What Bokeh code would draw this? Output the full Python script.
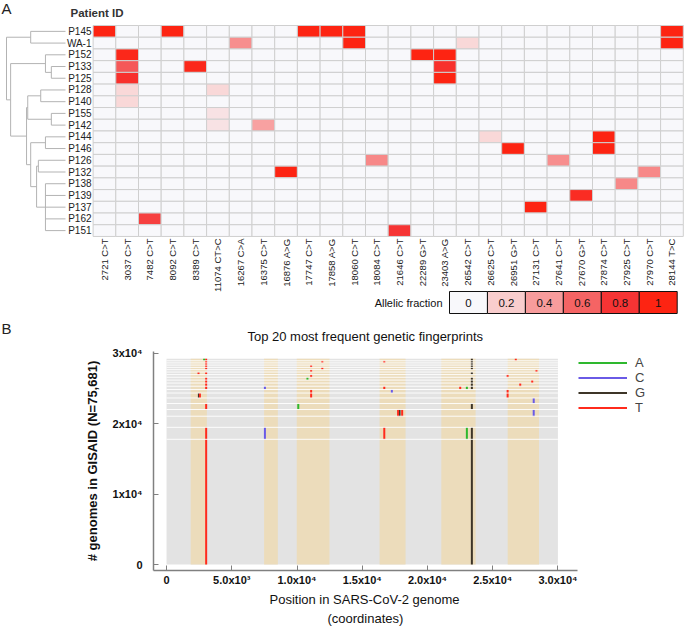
import numpy as np
from bokeh.plotting import figure
from bokeh.models import (Range1d, ColumnDataSource, LinearColorMapper, Legend, LegendItem,
                          FixedTicker, Title)
from bokeh.transform import transform
from bokeh.core.properties import value
from bokeh.embed import file_html
from bokeh.resources import INLINE

FONT = value("Liberation Sans")

# ---------------- Panel A data ----------------
patients = ["P145", "WA-1", "P152", "P133", "P125", "P128", "P140", "P155", "P142",
            "P144", "P146", "P126", "P132", "P138", "P139", "P137", "P162", "P151"]
mutations = ["2721 C>T", "3037 C>T", "7482 C>T", "8092 C>T", "8389 C>T", "11074 CT>C",
             "16267 C>A", "16375 C>T", "16876 A>G", "17747 C>T", "17858 A>G", "18060 C>T",
             "18084 C>T", "21646 C>T", "22289 G>T", "23403 A>G", "26542 C>T", "26625 C>T",
             "26951 G>T", "27131 C>T", "27641 C>T", "27670 G>T", "27874 C>T", "27925 C>T",
             "27970 C>T", "28144 T>C"]
af_patient = ["P145", "P145", "P145", "P145", "P145", "P145",
              "WA-1", "WA-1", "WA-1", "WA-1",
              "P152", "P152", "P152",
              "P133", "P133", "P133",
              "P125", "P125",
              "P128", "P128",
              "P140",
              "P155",
              "P142", "P142",
              "P144", "P144",
              "P146", "P146",
              "P126", "P126",
              "P132", "P132",
              "P138", "P139", "P137", "P162", "P151"]
af_mutation = ["2721 C>T", "8092 C>T", "17747 C>T", "17858 A>G", "18060 C>T", "28144 T>C",
               "16267 C>A", "18060 C>T", "26542 C>T", "28144 T>C",
               "3037 C>T", "22289 G>T", "23403 A>G",
               "3037 C>T", "8389 C>T", "23403 A>G",
               "3037 C>T", "23403 A>G",
               "3037 C>T", "11074 CT>C",
               "3037 C>T",
               "11074 CT>C",
               "11074 CT>C", "16375 C>T",
               "26625 C>T", "27874 C>T",
               "26951 G>T", "27874 C>T",
               "18084 C>T", "27641 C>T",
               "16876 A>G", "27970 C>T",
               "27925 C>T", "27670 G>T", "27131 C>T", "7482 C>T", "21646 C>T"]
af_value = [1.0, 1.0, 1.0, 1.0, 1.0, 1.0,
            0.45, 1.0, 0.15, 1.0,
            0.95, 1.0, 1.0,
            0.65, 0.95, 0.85,
            0.85, 1.0,
            0.15, 0.15,
            0.15,
            0.1,
            0.1, 0.38,
            0.15, 1.0,
            1.0, 1.0,
            0.47, 0.45,
            1.0, 0.47,
            0.47, 0.9, 1.0, 0.75, 0.8]
legend_values = [0, 0.2, 0.4, 0.6, 0.8, 1]
legend_labels = ["0", "0.2", "0.4", "0.6", "0.8", "1"]

# dendrogram (children, normalised merge height)
node_names = ["c1", "c2", "c3", "c4", "c5", "c6", "c7", "c8", "cm", "c9", "c10", "c11", "c12", "root"]
node_children = [["P145", "WA-1"], ["P133", "P125"], ["P152", "c2"], ["P128", "P140"],
                 ["P155", "P142"], ["c4", "c5"], ["P144", "P146"], ["P126", "P132"],
                 ["P138", "P139", "P137", "P162", "P151"], ["c8", "cm"], ["c7", "c9"],
                 ["c6", "c10"], ["c3", "c11"], ["c1", "c12"]]
node_height = [0.59, 0.24, 0.34, 0.42, 0.24, 0.64, 0.34, 0.46, 0.34, 0.49, 0.59, 0.66, 0.93, 1.0]

# ---------------- Panel B data ----------------
band_counts = [17780, 1700, 1580, 950, 850, 790, 700, 500, 470, 450,
               420, 400, 380, 360, 340, 330, 320, 310, 300, 290]
mut_fp = [1, 1,
          2, 2, 2, 2, 2,
          4, 4, 4, 4,
          5, 5, 5,
          6,
          7, 7, 7, 7,
          8, 8, 8,
          9, 9, 9, 9, 9, 9,
          10, 10, 10,
          11, 11, 11,
          12, 12, 12,
          13, 13,
          14, 14, 14,
          15, 15,
          16, 16, 16,
          17, 17, 17,
          18, 18,
          19, 19, 19, 19,
          20, 20, 20, 20]
mut_pos = [3037, 23403,
           3037, 7540, 16690, 23020, 23403,
           17747, 17858, 18060, 28144,
           3037, 10097, 23403,
           28144,
           2480, 2558, 11083, 26144,
           11083, 17270, 26144,
           3037, 7540, 16690, 22510, 23020, 23403,
           3037, 23403, 27110,
           3037, 23403, 28030,
           3037, 10800, 23403,
           11083, 26144,
           2450, 3037, 23403,
           11083, 28355,
           3037, 11940, 23403,
           3037, 11083, 23403,
           3037, 23403,
           3037, 11940, 16690, 23403,
           2880, 3037, 23403, 26770]
mut_base = ["T", "G",
            "T", "C", "T", "A", "G",
            "T", "G", "T", "C",
            "T", "A", "G",
            "C",
            "G", "T", "T", "T",
            "T", "C", "T",
            "T", "C", "T", "T", "A", "G",
            "T", "G", "T",
            "T", "G", "T",
            "T", "A", "G",
            "T", "T",
            "T", "T", "G",
            "T", "T",
            "T", "T", "G",
            "T", "T", "G",
            "T", "G",
            "T", "T", "T", "G",
            "A", "T", "G", "T"]
region_start = [1850, 7475, 9980, 16330, 21060, 26150]
region_end = [3090, 8530, 12490, 18320, 23690, 28550]
genome_end = 30000
bases = ["A", "C", "G", "T"]
base_colors = ["#2eb82e", "#6a5ae6", "#3d3528", "#ff2b1c"]
x_ticks = [0, 5000, 10000, 15000, 20000, 25000, 30000]
x_tick_labels = ["0", "5.0x10\u00b3", "1.0x10\u2074", "1.5x10\u2074", "2.0x10\u2074", "2.5x10\u2074", "3.0x10\u2074"]
y_ticks = [0, 10000, 20000, 30000]
y_tick_labels = ["0", "1x10\u2074", "2x10\u2074", "3x10\u2074"]
title_B = "Top 20 most frequent genetic fingerprints"

# ================= Panel A figure (also carries the "B" letter and panel-B title) =================
W = 685
HA = 344
cw = 22.7
rh = 11.72
x0 = -0.5 - 92.6 / cw
y1 = 0.5 + 25 / rh
pA = figure(width=W, height=HA, x_range=Range1d(x0, x0 + W / cw), y_range=Range1d(y1 - HA / rh, y1),
            output_backend="svg", toolbar_location=None, x_axis_type=None, y_axis_type=None,
            min_border_left=0, min_border_right=0, min_border_top=0, min_border_bottom=0)
pA.grid.visible = False
pA.outline_line_color = None

def sx(px):
    return x0 + px / cw

def sy(px):
    return y1 - px / rh

stops = [(0.0, "#f8f8fb"), (0.2, "#f9cdcd"), (0.4, "#f89c9c"), (0.6, "#f56464"), (0.8, "#f63434"), (1.0, "#fd2412")]
def hex2rgb(h):
    return np.array([int(h[i:i + 2], 16) for i in (1, 3, 5)], dtype=float)
pal = []
for t in np.linspace(0, 1, 101):
    for (a, ca), (b, cb) in zip(stops[:-1], stops[1:]):
        if a <= t <= b + 1e-9:
            f = (t - a) / (b - a)
            c = hex2rgb(ca) * (1 - f) + hex2rgb(cb) * f
            pal.append("#%02x%02x%02x" % tuple(int(round(v)) for v in c))
            break
mapper = LinearColorMapper(palette=pal, low=0, high=1)

lookup = {(p, m): v for p, m, v in zip(af_patient, af_mutation, af_value)}
cx, cy, cv = [], [], []
for i, pt in enumerate(patients):
    for j, mu in enumerate(mutations):
        cx.append(j)
        cy.append(-i)
        cv.append(lookup.get((pt, mu), 0.0))
pA.rect(x="x", y="y", width=1, height=1, source=ColumnDataSource(dict(x=cx, y=cy, v=cv)),
        fill_color=transform("v", mapper), line_color="#cfcfcf", line_width=1)

pA.text(x=[-0.57] * len(patients), y=[-i for i in range(len(patients))], text=patients,
        text_align="right", text_baseline="middle", text_font=FONT, text_font_size="10px", text_color="#222222")
pA.text(x=list(range(len(mutations))), y=[-len(patients) + 0.5 - 0.17] * len(mutations), text=mutations,
        angle=np.pi / 2, text_align="right", text_baseline="middle", text_font=FONT,
        text_font_size="9.5px", text_color="#222222")

# dendrogram
leaf_x = sx(65)
span = 59 / cw
ypos = {p: -i for i, p in enumerate(patients)}
xpos = {p: leaf_x for p in patients}
sx0, sy0, sx1, sy1 = [], [], [], []
for name, kids, h in zip(node_names, node_children, node_height):
    xn = leaf_x - h * span
    ys = [ypos[k] for k in kids]
    sx0.append(xn); sy0.append(min(ys)); sx1.append(xn); sy1.append(max(ys))
    for k in kids:
        sx0.append(xn); sy0.append(ypos[k]); sx1.append(xpos[k]); sy1.append(ypos[k])
    ypos[name] = (min(ys) + max(ys)) / 2
    xpos[name] = xn
pA.segment(x0=sx0, y0=sy0, x1=sx1, y1=sy1, line_color="#b3b3b3", line_width=1)

# panel letters, headers
pA.text(x=[sx(1)], y=[sy(-1)], text=["A"], text_baseline="top", text_font=FONT,
        text_font_size="15px", text_color="#222222")
pA.text(x=[sx(1)], y=[sy(319)], text=["B"], text_baseline="top", text_font=FONT,
        text_font_size="15px", text_color="#222222")
pA.text(x=[sx(70)], y=[sy(12.5)], text=["Patient ID"], text_baseline="middle", text_font=FONT,
        text_font_size="11.5px", text_font_style="bold", text_color="#333333")
pA.text(x=[sx(364.7)], y=[sy(336)], text=[title_B], text_align="center", text_baseline="middle",
        text_font=FONT, text_font_size="13px", text_color="#111111")

# allelic fraction legend
bw = 37.95 / cw
bx0 = sx(449)
btop, bbot = sy(291), sy(313)
bxs = [bx0 + (k + 0.5) * bw for k in range(len(legend_values))]
pA.rect(x=bxs, y=[(btop + bbot) / 2] * len(bxs), width=bw, height=btop - bbot,
        fill_color=[pal[int(round(v * 100))] for v in legend_values], line_color="#111111", line_width=1)
pA.text(x=bxs, y=[(btop + bbot) / 2] * len(bxs), text=legend_labels, text_align="center",
        text_baseline="middle", text_font=FONT, text_font_size="11.5px", text_color="#111111")
pA.text(x=[sx(442)], y=[(btop + bbot) / 2], text=["Allelic fraction"], text_align="right",
        text_baseline="middle", text_font=FONT, text_font_size="11px", text_color="#111111")

# ================= Panel B figure =================
HB = 626 - HA
FL, FW, FH = 153, 424, 219
TOP = 7
XMIN, XMAX = -1000, 31500
x_end = XMIN + (W - FL) * (XMAX - XMIN) / FW      # frame extends right to hold the legend
pB = figure(width=W, height=HB, x_range=Range1d(XMIN, x_end), y_range=Range1d(-850, 30250),
            output_backend="svg", toolbar_location=None,
            min_border_left=FL, min_border_right=0, min_border_top=TOP,
            min_border_bottom=HB - TOP - FH)
pB.grid.visible = False
pB.outline_line_color = None

cum = np.cumsum(band_counts)
total = float(cum[-1])
bottoms = cum - np.array(band_counts)
pB.quad(left=[0], right=[genome_end], bottom=[0], top=[total], fill_color="#e3e3e3", line_color=None)
pB.quad(left=region_start, right=region_end, bottom=[0] * len(region_start), top=[total] * len(region_start),
        fill_color="#ecdcbb", line_color=None)

renderers = []
for b, col in zip(bases, base_colors):
    xs = [p for p, bb in zip(mut_pos, mut_base) if bb == b]
    yb = [float(bottoms[f - 1]) for f, bb in zip(mut_fp, mut_base) if bb == b]
    yt = [float(cum[f - 1]) for f, bb in zip(mut_fp, mut_base) if bb == b]
    r = pB.segment(x0=xs, y0=yb, x1=xs, y1=yt, line_color=col, line_width=2)
    renderers.append(r)

bounds = [float(c) for c in cum[:-1]]
pB.segment(x0=[0] * len(bounds), y0=bounds, x1=[genome_end] * len(bounds), y1=bounds,
           line_color="white", line_width=1, line_alpha=0.9)

for ax in (pB.xaxis, pB.yaxis):
    ax.axis_line_color = "#808080"
    ax.axis_line_width = 1.5
    ax.major_tick_line_color = "#808080"
    ax.major_tick_in = 5
    ax.major_tick_out = 0
    ax.minor_tick_line_color = None
    ax.major_label_text_font = "Liberation Sans"
    ax.major_label_text_font_style = "bold"
    ax.major_label_text_font_size = "11px"
    ax.major_label_text_color = "#111111"
    ax.axis_label_text_font = "Liberation Sans"
    ax.axis_label_text_color = "#111111"
    ax.axis_label_text_font_size = "13px"

pB.xaxis.ticker = FixedTicker(ticks=x_ticks)
pB.xaxis.bounds = (XMIN, XMAX)
pB.xaxis.major_label_overrides = {t: l for t, l in zip(x_ticks, x_tick_labels)}
pB.xaxis.major_label_standoff = 3
pB.yaxis.ticker = FixedTicker(ticks=y_ticks)
pB.yaxis.major_label_overrides = {t: l for t, l in zip(y_ticks, y_tick_labels)}
pB.yaxis.major_label_standoff = 11
pB.yaxis.axis_label = "# genomes in GISAID (N=75,681)"
pB.yaxis.axis_label_text_font_style = "bold"
pB.yaxis.axis_label_standoff = 10

# x-axis title (two centred lines under the axis span)
pB.add_layout(Title(text="Position in SARS-CoV-2 genome", align="left", offset=116, standoff=3,
                    text_font="Liberation Sans", text_font_size="13px", text_font_style="normal",
                    text_color="#111111", text_line_height=1.0), "below")
pB.add_layout(Title(text="(coordinates)", align="left", offset=174, standoff=0,
                    text_font="Liberation Sans", text_font_size="13px", text_font_style="normal",
                    text_color="#111111", text_line_height=1.0), "below")

legend = Legend(items=[LegendItem(label=b, renderers=[r]) for b, r in zip(bases, renderers)],
                location=(FW + 1, FH - 64), glyph_width=49, glyph_height=15, label_height=15,
                spacing=0, padding=0, margin=0, border_line_color=None, background_fill_alpha=0,
                label_text_font="Liberation Sans", label_text_font_size="13px", label_standoff=8)
pB.add_layout(legend)

open("out.html", "w").write(file_html([pA, pB], INLINE))
